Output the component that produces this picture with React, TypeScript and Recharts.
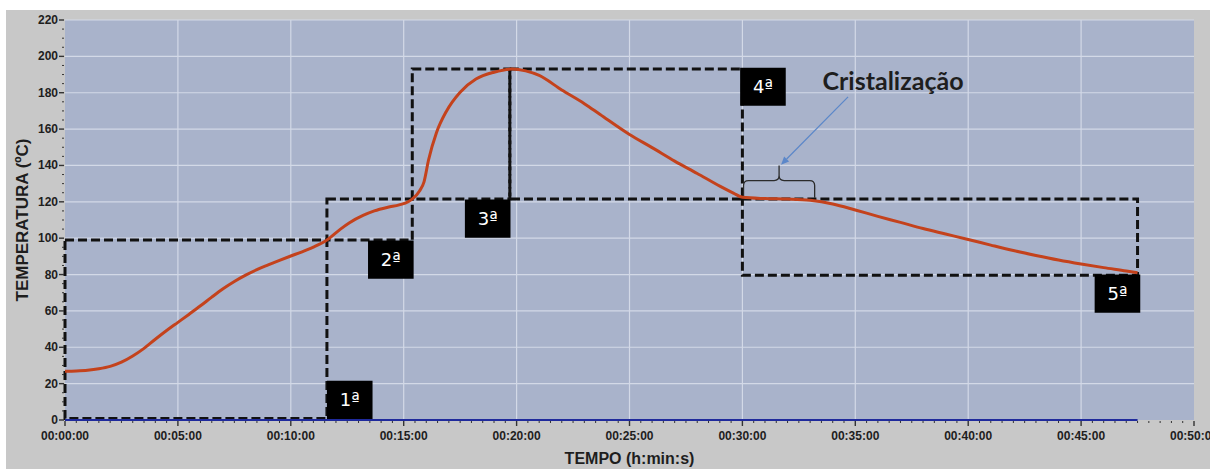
import {
  LineChart,
  Line,
  XAxis,
  YAxis,
  CartesianGrid,
  ReferenceArea,
  ReferenceDot,
} from "recharts";

// curva de arrefecimento: tempo em minutos, temperatura em ºC
const tempo = [
  0, 0.5, 1, 1.5, 2, 2.5, 3, 3.5, 4, 4.5, 5, 5.5, 6, 6.5, 7, 7.5, 8, 8.5, 9, 9.5,
  10, 10.5, 11, 11.6, 12.2, 12.6, 13.2, 13.7, 14.3, 14.8, 15.2, 15.4, 15.7, 15.9,
  16.1, 16.45, 16.9, 17.5, 18.2, 19, 19.8, 20.4, 21, 22, 23, 23.7, 25, 26, 27, 28,
  29, 29.6, 30, 31, 32, 33, 34, 35, 36, 37, 38, 39, 40, 41, 42, 43, 44, 45, 46, 47,
  47.5,
];
const temperatura = [
  26.8, 27, 27.4, 28.2, 29.5, 31.8, 35.2, 39.4, 44.4, 49.2, 53.7, 58.2, 62.8, 67.6,
  72.2, 76.2, 79.7, 82.7, 85.3, 87.8, 90.2, 92.5, 95.1, 99, 105, 108.5, 112.5, 115,
  117, 118.3, 120, 121.7, 126, 131, 143, 158, 170, 180.3, 187.5, 191.3, 193, 192,
  189.5, 181.5, 174, 168, 157, 149.8, 142.4, 135.6, 128.6, 124.8, 122.5, 121.8,
  121.5, 120.8, 118.8, 115.5, 112, 108.7, 105.3, 102.3, 99.3, 96.2, 93.2, 90.5, 88,
  85.8, 83.8, 82, 81,
];

// linha azul do segundo canal (fica a zero)
const baseTempo = [0, 47.5];
const baseValor = [0, 0];

// etapas: caixas tracejadas (tempo inicial/final, temperatura min/max)
const etapas = ["1ª", "2ª", "3ª", "4ª", "5ª"];
const caixaT1 = [0, 11.6, 15.38, 19.7, 30];
const caixaT2 = [11.6, 15.38, 19.7, 30, 47.5];
const caixaY1 = [0.8, 99, 121.5, 121.5, 79.6];
const caixaY2 = [99, 121.5, 193, 193, 121.5];

// etiquetas pretas de cada etapa (canto inferior esquerdo)
const etiquetaT = [11.6, 13.42, 17.71, 29.9, 45.6];
const etiquetaY = [0.6, 77.7, 100.3, 172.8, 59];

const ticksY = Array.from({ length: 45 }, (_, i) => i * 5);
const ticksX = Array.from({ length: 101 }, (_, i) => i * 0.5);
const gradeY = [20, 40, 60, 80, 100, 120, 140, 160, 180, 200, 220];
const gradeX = [5, 10, 15, 20, 25, 30, 35, 40, 45];

const curva = tempo.map((t, i) => ({ t, temp: temperatura[i] }));
const base = baseTempo.map((t, i) => ({ t, temp: baseValor[i] }));

const FONTE = "'Liberation Sans', Arial, sans-serif";

const fmtTempo = (m: number) => `00:${String(m).padStart(2, "0")}:00`;

const TickY = ({ x, y, payload }: any) => {
  const major = payload.value % 20 === 0;
  return (
    <g>
      <line x1={x - (major ? 6 : 3)} x2={x - 1} y1={y} y2={y} stroke="#333" strokeWidth={major ? 1.4 : 1} />
      {major && (
        <text x={x - 7} y={y} dy={4} textAnchor="end" fontSize={12} fontWeight={700} fill="#1e1e1e" fontFamily={FONTE}>
          {payload.value}
        </text>
      )}
    </g>
  );
};

const TickX = ({ x, y, payload }: any) => {
  const major = payload.value % 5 === 0;
  return (
    <g>
      <line x1={x} x2={x} y1={y + 1} y2={y + (major ? 6 : 3)} stroke="#333" strokeWidth={major ? 1.4 : 1} />
      {major && (
        <text x={x} y={y + 20} textAnchor="middle" fontSize={12} fontWeight={700} fill="#1e1e1e" fontFamily={FONTE}>
          {fmtTempo(payload.value)}
        </text>
      )}
    </g>
  );
};

// chaveta horizontal sobre o patamar de cristalização
const Chaveta = ({ x, y, width: w, height: h }: any) => {
  const xm = x + w / 2;
  const ym = y + h * 0.47;
  const yb = y + h;
  const r = 5;
  const d =
    `M${x},${yb} L${x},${ym + r} Q${x},${ym} ${x + r},${ym} L${xm - r},${ym} ` +
    `Q${xm},${ym} ${xm},${ym - r} L${xm},${y} M${xm},${ym - r} Q${xm},${ym} ${xm + r},${ym} ` +
    `L${x + w - r},${ym} Q${x + w},${ym} ${x + w},${ym + r} L${x + w},${yb}`;
  return <path d={d} fill="none" stroke="#2b2b2b" strokeWidth={1.3} />;
};

// seta do texto até à chaveta
const Seta = ({ x, y, width: w, height: h }: any) => {
  const x0 = x + w;
  const y0 = y;
  const x1 = x;
  const y1 = y + h;
  const len = Math.hypot(x1 - x0, y1 - y0);
  const ux = (x1 - x0) / len;
  const uy = (y1 - y0) / len;
  const a = 8;
  const b = 3.5;
  const bx = x1 - ux * a;
  const by = y1 - uy * a;
  return (
    <g>
      <line x1={x0} y1={y0} x2={bx} y2={by} stroke="#5b87c9" strokeWidth={1.2} />
      <polygon
        points={`${x1},${y1} ${bx - uy * b},${by + ux * b} ${bx + uy * b},${by - ux * b}`}
        fill="#5b87c9"
      />
    </g>
  );
};

const Titulo = ({ cx, cy }: any) => (
  <text x={cx} y={cy} dy={8} textAnchor="middle" fontSize={25} fontWeight={700} fill="#1e1e1e" fontFamily="Lato, sans-serif">
    Cristalização
  </text>
);

export default function App() {
  return (
    <div style={{ position: "absolute", left: 0, top: 0, width: 1210, height: 469, background: "#fff" }}>
      <div style={{ position: "absolute", left: 6, top: 10, right: 0, bottom: 0, background: "#c8c8c8" }} />
      <div style={{ position: "absolute", left: 0, top: 0 }}>
        <LineChart width={1210} height={469} margin={{ top: 20, right: 16, bottom: 0, left: 0 }}>
          <CartesianGrid
            fill="#a9b3cb"
            stroke="#d3d9e7"
            strokeWidth={1.2}
            horizontalValues={gradeY}
            verticalValues={gradeX}
          />
          <XAxis
            dataKey="t"
            type="number"
            domain={[0, 50]}
            ticks={ticksX}
            interval={0}
            tick={<TickX />}
            tickSize={0}
            tickMargin={0}
            tickLine={false}
            axisLine={false}
            height={49}
            label={{
              value: "TEMPO (h:min:s)",
              position: "insideBottom",
              offset: 5,
              fontSize: 16,
              fontWeight: 700,
              fill: "#1e1e1e",
              fontFamily: FONTE,
            }}
          />
          <YAxis
            type="number"
            domain={[0, 220]}
            ticks={ticksY}
            interval={0}
            tick={<TickY />}
            tickSize={0}
            tickMargin={0}
            tickLine={false}
            axisLine={false}
            width={65}
            label={{
              value: "TEMPERATURA (ºC)",
              angle: -90,
              position: "insideLeft",
              offset: 22,
              style: { textAnchor: "middle" },
              fontSize: 17,
              fontWeight: 700,
              fill: "#1e1e1e",
              fontFamily: FONTE,
            }}
          />
          {etapas.map((e, i) => (
            <ReferenceArea
              key={`caixa-${e}`}
              x1={caixaT1[i]}
              x2={caixaT2[i]}
              y1={caixaY1[i]}
              y2={caixaY2[i]}
              fill="none"
              stroke="#111"
              strokeWidth={3}
              strokeDasharray="9 4"
            />
          ))}
          <ReferenceArea x1={30.05} x2={33.2} y1={122.3} y2={140} shape={<Chaveta />} />
          <ReferenceArea x1={31.71} x2={34.68} y1={140.4} y2={177.7} shape={<Seta />} />
          <ReferenceDot x={36.67} y={186} r={0} shape={<Titulo />} />
          <Line
            data={base}
            dataKey="temp"
            stroke="#1f2a9c"
            strokeWidth={2}
            dot={false}
            isAnimationActive={false}
          />
          <Line
            data={curva}
            dataKey="temp"
            type="monotone"
            stroke="#c4421c"
            strokeWidth={3}
            dot={false}
            isAnimationActive={false}
          />
          {etapas.map((e, i) => (
            <ReferenceArea
              key={`etiqueta-${e}`}
              x1={etiquetaT[i]}
              x2={etiquetaT[i] + 2.02}
              y1={etiquetaY[i]}
              y2={etiquetaY[i] + 21}
              fill="#000"
              fillOpacity={1}
              label={{
                value: e,
                position: "center",
                fill: "#fff",
                fontSize: 18,
                fontFamily: "'DejaVu Sans', sans-serif",
              }}
            />
          ))}
        </LineChart>
      </div>
    </div>
  );
}
